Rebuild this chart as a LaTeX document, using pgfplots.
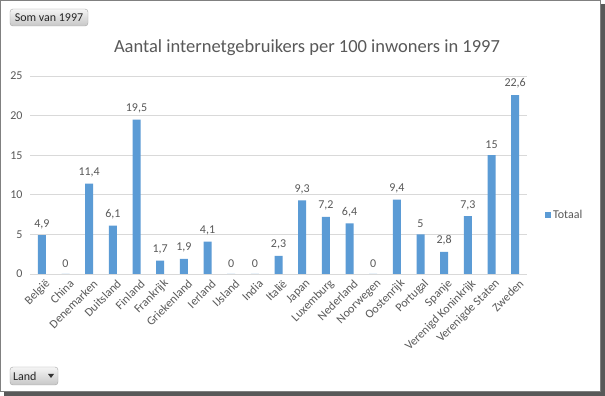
\documentclass[border=0pt]{standalone}
\usepackage{fontspec}
\setmainfont{Carlito}
\usepackage{pgfplots}
\pgfplotsset{compat=1.18}
\definecolor{barblue}{HTML}{5B9BD5}
\definecolor{txt}{HTML}{595959}
\definecolor{gridc}{HTML}{D9D9D9}
\begin{document}
\begin{tikzpicture}
\useasboundingbox (0pt,0pt) rectangle (605pt,396pt);
% frame with shadow
\fill[black!65] (4pt,0pt) rectangle (605pt,4pt);
\fill[black!65] (601pt,0pt) rectangle (605pt,392pt);
\fill[white] (0pt,4pt) rectangle (601pt,396pt);
\draw[black!50, line width=1pt] (0.5pt,4.5pt) rectangle (600.5pt,395.5pt);
% buttons
\node[draw=black!35, rounded corners=3pt, top color=black!4, bottom color=black!22,
      inner xsep=3pt, inner ysep=1pt, minimum height=17pt, minimum width=78pt, font=\fontsize{12}{13}\selectfont, text=black!85]
      at (49pt,378.5pt) {Som van 1997};
\node[draw=black!35, rounded corners=3pt, top color=black!4, bottom color=black!22,
      inner xsep=3pt, inner ysep=1pt, minimum height=18pt, text width=42pt, align=left, font=\fontsize{12}{13}\selectfont, text=black!85]
      at (34pt,20pt) {Land};
\fill[black!80] (48pt,22pt) -- (54pt,22pt) -- (51pt,18pt) -- cycle;
% title
\node[font=\fontsize{18.5}{20}\selectfont, text=txt] at (307pt,348pt) {Aantal internetgebruikers per 100 inwoners in 1997};
\begin{axis}[
  at={(30pt,122pt)}, anchor=south west,
  scale only axis, width=497pt, height=198pt,
  ybar, bar width=8pt,
  xmin=-0.5, xmax=20.5, ymin=0, ymax=25,
  ytick={0,5,10,15,20,25},
  xtick={0,...,20},
  xticklabels={België,China,Denemarken,Duitsland,Finland,Frankrijk,Griekenland,Ierland,IJsland,India,Italië,Japan,Luxemburg,Nederland,Noorwegen,Oostenrijk,Portugal,Spanje,Verenigd Koninkrijk,Verenigde Staten,Zweden},
  xticklabel style={rotate=45, anchor=east, inner sep=1pt, yshift=-10pt, font=\fontsize{12}{13}\selectfont, text=txt},
  yticklabel style={font=\fontsize{12}{13}\selectfont, text=txt, xshift=-4pt},
  /pgf/number format/assume math mode=true,
  /pgf/number format/use comma,
  major tick length=0pt,
  ymajorgrids, grid style={gridc, line width=0.8pt},
  axis x line*=bottom, axis y line*=left,
  x axis line style={gridc, line width=0.8pt, -},
  y axis line style={draw=none},
  nodes near coords,
  nodes near coords style={font=\fontsize{12}{13}\selectfont, text=txt, yshift=3pt, /pgf/number format/assume math mode=true, /pgf/number format/use comma},
  legend style={at={(1.036,0.30)}, anchor=west, draw=none, fill=none, font=\fontsize{12}{13}\selectfont, text=txt, inner sep=0pt},
  legend image code/.code={\fill[barblue] (0pt,-3pt) rectangle (6pt,3pt);},
  clip=false,
]
\addplot[fill=barblue, draw=none] coordinates {
(0,4.9) (1,0) (2,11.4) (3,6.1) (4,19.5) (5,1.7) (6,1.9) (7,4.1) (8,0) (9,0) (10,2.3)
(11,9.3) (12,7.2) (13,6.4) (14,0) (15,9.4) (16,5) (17,2.8) (18,7.3) (19,15) (20,22.6)};
\addlegendentry{Totaal}
\end{axis}
\end{tikzpicture}
\end{document}
